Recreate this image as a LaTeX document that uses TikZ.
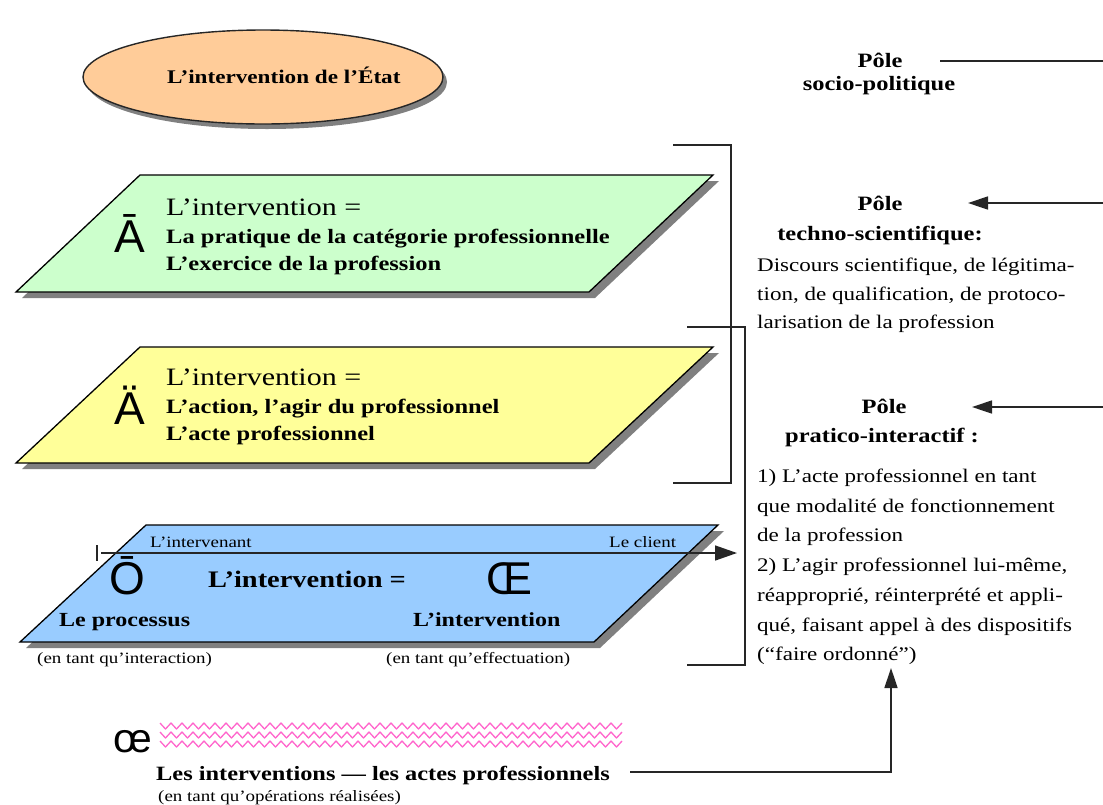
\documentclass[tikz,border=0pt]{standalone}
\usepackage{fontspec}
\setmainfont{Liberation Serif}[FakeStretch=1.2]
\newfontfamily\symf{Liberation Sans}
\usetikzlibrary{arrows.meta,shadows,shapes.geometric}
\definecolor{peach}{HTML}{FFCC99}
\definecolor{pgreen}{HTML}{CCFFCC}
\definecolor{pyellow}{HTML}{FFFF99}
\definecolor{pblue}{HTML}{99CCFF}
\definecolor{wavepink}{HTML}{FF66CC}
\definecolor{shade}{HTML}{808080}
\newcommand{\fsz}[1]{\fontsize{#1}{#1}\selectfont}
\begin{document}
\begin{tikzpicture}[x=1pt,y=-1pt,
  plane/.style={draw=black, line width=1.3pt, line join=miter,
    drop shadow={shadow xshift=6pt, shadow yshift=-6pt, fill=shade, opacity=1}},
  lbl/.style={anchor=base west, inner sep=0pt},
  ctr/.style={anchor=base, inner sep=0pt},
  conn/.style={draw=black!85, line width=1.5pt},
  arr/.style={conn, -{Triangle[length=20pt,width=13pt]}},
  big/.style={anchor=base west, inner sep=0pt, font=\symf\fsz{46}},
  bold/.style={font=\bfseries\fsz{20.4}},
  head/.style={font=\fsz{25}},
  body/.style={font=\fsz{19.2}},
  small/.style={font=\fsz{15.8}},
  wave/.style={draw=wavepink, line width=1.3pt, line join=round},
]
\useasboundingbox (0,0) rectangle (1103,804);

% ellipse
\node[ellipse, draw=black!85, line width=1.4pt, fill=peach, minimum width=360pt,
  minimum height=94pt, inner sep=0pt,
  drop shadow={shadow xshift=4pt, shadow yshift=-5pt, fill=shade, opacity=1}] (etat) at (263,77) {};
\node[lbl, font=\bfseries\fsz{19.3}] (etatT) at (167,83) {L’intervention de l’État};

% green plane
\path[plane, fill=pgreen] (16,292) -- (140,175) -- (713,175) -- (589,292) -- cycle;
\node[big] (symA) at (114,252) {Ā};
\node[lbl, head] (g1) at (166,215) {L’intervention =};
\node[lbl, bold] (g2) at (166,243) {La pratique de la catégorie professionnelle};
\node[lbl, bold] (g3) at (166,270) {L’exercice de la profession};

% yellow plane
\path[plane, fill=pyellow] (16,463) -- (140,347) -- (713,347) -- (589,463) -- cycle;
\node[big] (symB) at (114,424) {Ä};
\node[lbl, head] (y1) at (166,385) {L’intervention =};
\node[lbl, bold] (y2) at (166,413) {L’action, l’agir du professionnel};
\node[lbl, bold] (y3) at (166,440) {L’acte professionnel};

% blue plane
\path[plane, fill=pblue] (20,642) -- (146,525) -- (718,525) -- (594,642) -- cycle;
\node[lbl, small] (b0a) at (150,547) {L’intervenant};
\node[lbl, small] (b0b) at (609,547) {Le client};
\node[big] (symC) at (109,594) {Ō};
\node[big] (symD) at (486,594) {Œ};
\node[lbl, font=\bfseries\fsz{23.7}] (b1) at (208,587) {L’intervention =};
\node[lbl, font=\bfseries\fsz{20}] (b2) at (59,626) {Le processus};
\node[lbl, font=\bfseries\fsz{20}] (b3) at (413,626) {L’intervention};
\node[lbl, small] (b4) at (37,663) {(en tant qu’interaction)};
\node[lbl, small] (b5) at (386,663) {(en tant qu’effectuation)};
\coordinate (tickA) at (97,545);
\coordinate (tickB) at (97,561);
\draw[conn, line width=1.2pt] (tickA) -- (tickB);
\coordinate (flowA) at (101,553);
\coordinate (flowB) at (737,553);
\draw[arr, -{Triangle[length=22pt,width=15pt]}] (flowA) -- (flowB);

% brackets
\coordinate (k1a) at (673,145);
\coordinate (k1b) at (731,145);
\coordinate (k1c) at (731,483);
\coordinate (k1d) at (673,483);
\draw[conn] (k1a) -- (k1b) -- (k1c) -- (k1d);
\coordinate (k2a) at (687,327);
\coordinate (k2b) at (745,327);
\coordinate (k2c) at (745,665);
\coordinate (k2d) at (687,665);
\draw[conn] (k2a) -- (k2b) -- (k2c) -- (k2d);

% right column
\node[ctr, bold] (sp1) at (880,67) {Pôle};
\node[ctr, bold] (sp2) at (879,90) {socio-politique};
\coordinate (spA) at (940,61);
\coordinate (spB) at (1103,61);
\draw[conn] (spA) -- (spB);

\node[ctr, bold] (tp1) at (880,210) {Pôle};
\node[ctr, bold] (tp2) at (880,240) {techno-scientifique:};
\node[lbl, body] (tl1) at (757,271) {Discours scientifique, de légitima-};
\node[lbl, body] (tl2) at (757,300) {tion, de qualification, de protoco-};
\node[lbl, body] (tl3) at (757,328) {larisation de la profession};
\coordinate (tpA) at (1103,203);
\coordinate (tpB) at (968,203);
\draw[arr] (tpA) -- (tpB);

\node[ctr, bold] (pp1) at (884,413) {Pôle};
\node[ctr, bold] (pp2) at (882,442) {pratico-interactif :};
\node[lbl, body] (pl1) at (757,482) {1) L’acte professionnel en tant};
\node[lbl, body] (pl2) at (757,512) {que modalité de fonctionnement};
\node[lbl, body] (pl3) at (757,541) {de la profession};
\node[lbl, body] (pl4) at (757,571) {2) L’agir professionnel lui-même,};
\node[lbl, body] (pl5) at (757,601) {réapproprié, réinterprété et appli-};
\node[lbl, body] (pl6) at (757,631) {qué, faisant appel à des dispositifs};
\node[lbl, body] (pl7) at (757,660) {(“faire ordonné”)};
\coordinate (ppA) at (1103,407);
\coordinate (ppB) at (972,407);
\draw[arr] (ppA) -- (ppB);

% bottom
\foreach \wy in {723,732,741} {
  \draw[wave] (160,\wy) \foreach \i in {1,...,42} { -- ++(5.5,6) -- ++(5.5,-6) };
}
\node[anchor=base west, inner sep=0pt, font=\symf\fsz{41}] (symE) at (113,752) {œ};
\node[lbl, font=\bfseries\fsz{20.3}] (bt1) at (156,780) {Les interventions — les actes professionnels};
\node[lbl, small] (bt2) at (158,801) {(en tant qu’opérations réalisées)};
\coordinate (btA) at (630,772);
\coordinate (btB) at (891,668);
\draw[arr] (btA) -| (btB);
\end{tikzpicture}
\end{document}
